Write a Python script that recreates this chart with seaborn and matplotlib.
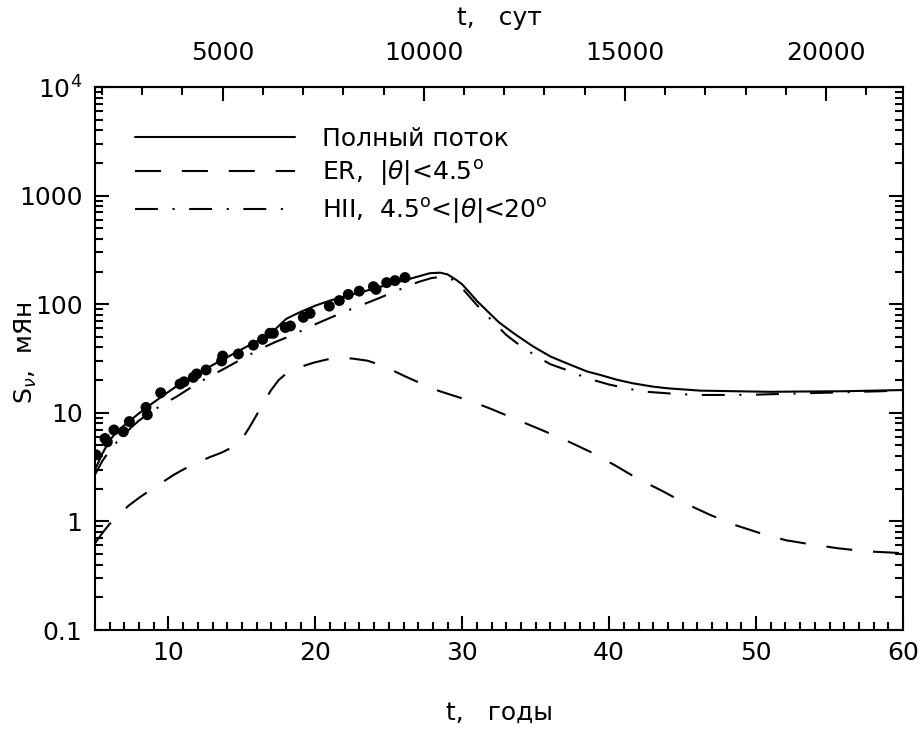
import numpy as np
import pandas as pd
import matplotlib
matplotlib.use("Agg")
import matplotlib.pyplot as plt
import seaborn as sns
from matplotlib.ticker import MultipleLocator, FixedLocator, FixedFormatter, LogLocator, NullFormatter

# ---- data ----
t_total = [5.0, 5.5, 6.0, 6.5, 7.0, 8.0, 9.0, 10.0, 11.0, 12.0, 13.0, 14.0, 15.0, 16.0, 17.0,
           17.5, 18.0, 18.5, 19.0, 20.0, 21.0, 22.0, 23.0, 24.0, 25.0, 26.0, 27.0, 27.8, 28.5,
           29.0, 29.6, 30.0, 30.5, 31.0, 31.5, 32.0, 32.5, 33.5, 34.8, 36.0, 37.1, 38.5, 39.4,
           40.5, 41.6, 43.0, 44.0, 46.2, 48.5, 51.0, 53.0, 56.0, 58.0, 60.0]
s_total = [3.0, 4.2, 5.6, 6.7, 7.7, 9.9, 12.5, 15.6, 19.3, 23.0, 27.5, 32.5, 38.5, 45.5, 54.0,
           63.0, 73.0, 79.0, 85.0, 97.0, 108.0, 118.0, 128.0, 139.0, 152.0, 165.0, 180.0, 193.0, 195.0,
           188.0, 167.0, 152.0, 128.0, 107.0, 92.0, 79.0, 68.0, 54.0, 41.0, 33.0, 28.6, 24.0, 22.3,
           20.2, 18.7, 17.4, 16.8, 16.0, 15.8, 15.6, 15.7, 15.8, 16.0, 16.2]

t_er = [5.0, 5.5, 6.0, 6.5, 7.27, 8.0, 8.86, 9.5, 10.33, 11.0, 11.92, 12.8, 13.62, 14.19, 14.87,
        15.1, 15.5, 16.05, 16.5, 16.96, 17.5, 18.16, 19.0, 19.91, 20.8, 21.68, 22.5, 23.54, 24.3,
        25.2, 26.0, 26.9, 27.7, 28.53, 29.4, 30.35, 31.2, 32.0, 33.75, 35.4, 37.1, 38.7, 40.35,
        41.9, 43.57, 45.16, 46.86, 48.52, 50.27, 52.04, 53.9, 55.6, 57.5, 60.0]
s_er = [0.63, 0.78, 0.95, 1.1, 1.39, 1.65, 1.98, 2.25, 2.67, 3.0, 3.47, 3.9, 4.3, 4.7, 5.5,
        6.0, 7.3, 9.8, 12.5, 16.0, 20.0, 23.9, 26.5, 29.0, 31.0, 31.8, 31.6, 30.2, 28.0,
        24.8, 22.0, 19.4, 17.2, 15.7, 14.4, 13.1, 11.9, 10.8, 8.6, 6.95, 5.54, 4.38, 3.31,
        2.49, 1.92, 1.47, 1.15, 0.93, 0.78, 0.67, 0.61, 0.565, 0.53, 0.51]

t_hii = [5.0, 5.5, 6.0, 6.5, 7.0, 7.4, 8.0, 9.0, 10.0, 10.56, 11.5, 12.5, 13.85, 15.2, 16.3,
         17.3, 18.3, 18.7, 19.5, 20.77, 22.24, 23.3, 24.28, 25.76, 27.0, 27.9, 28.5, 29.0, 29.4,
         30.0, 30.5, 31.0, 32.0, 33.0, 33.7, 35.06, 36.0, 37.1, 38.5, 40.0, 41.2, 42.3, 44.6,
         46.1, 48.4, 50.0, 52.3, 56.2, 60.0]
s_hii = [2.7, 3.6, 4.5, 5.4, 6.3, 7.2, 8.5, 10.6, 12.8, 14.1, 17.0, 20.5, 25.7, 32.4, 39.0,
         45.0, 51.0, 54.0, 61.0, 72.6, 88.0, 100.0, 113.0, 137.0, 160.0, 174.0, 178.0, 176.0, 167.0,
         140.0, 117.0, 98.0, 71.0, 52.0, 44.0, 33.0, 28.0, 24.8, 20.8, 18.2, 16.8, 15.7, 14.9,
         14.6, 14.6, 14.7, 15.0, 15.5, 16.0]

t_obs = [5.07, 5.68, 5.84, 6.29, 6.93, 7.34, 8.47, 8.56, 9.47, 10.79, 11.06, 11.69, 11.92, 12.56,
         13.62, 13.69, 14.76, 15.78, 16.41, 16.91, 17.14, 17.95, 18.3, 19.18, 19.64, 20.95, 21.63,
         22.24, 22.99, 23.95, 24.13, 24.85, 25.42, 26.1]
s_obs = [4.1, 5.8, 5.4, 6.95, 6.7, 8.3, 11.2, 9.6, 15.3, 18.4, 19.3, 21.2, 22.8, 24.8,
         30.0, 33.3, 34.8, 42.0, 47.5, 54.0, 54.0, 61.0, 63.0, 75.7, 82.4, 96.0, 108.0,
         123.0, 132.0, 145.0, 137.0, 158.0, 165.0, 176.0]

ytick_vals = [0.1, 1, 10, 100, 1000, 1e4]
ytick_labels = ["0.1", "1", "10", "100", "1000", "10$^4$"]
xtick_years = [10, 20, 30, 40, 50, 60]
xtick_days = [5000, 10000, 15000, 20000]

label_total = "Полный поток"
label_er = r"ER,  |$\theta$|<4.5$^{\rm o}$"
label_hii = r"HII,  4.5$^{\rm o}$<|$\theta$|<20$^{\rm o}$"

DAYS_PER_YEAR = 365.25

# ---- style ----
sns.set_theme(style="ticks")
plt.rcParams["font.family"] = ["DejaVu Sans"]
plt.rcParams["mathtext.fontset"] = "dejavusans"
plt.rcParams["axes.linewidth"] = 1.5

fig = plt.figure(figsize=(9.22, 7.31), dpi=100)
ax = fig.add_axes([95/922, 1 - 630/731, 808/922, 543/731])

lw = 1.5
sns.lineplot(x=t_total, y=s_total, ax=ax, color="black", lw=lw, sort=False,
             estimator=None, label=label_total, linestyle="-")
sns.lineplot(x=t_er, y=s_er, ax=ax, color="black", lw=lw, sort=False,
             estimator=None, label=label_er, linestyle=(0, (12.5, 10)))
sns.lineplot(x=t_hii, y=s_hii, ax=ax, color="black", lw=lw, sort=False,
             estimator=None, label=label_hii, linestyle=(0, (11, 7, 1, 7)))
sns.scatterplot(x=t_obs, y=s_obs, ax=ax, color="black", s=62, edgecolor="none",
                legend=False, zorder=5)

ax.set_yscale("log")
ax.set_xlim(5, 60)
ax.set_ylim(0.1, 1e4)

ax.yaxis.set_major_locator(FixedLocator(ytick_vals))
ax.yaxis.set_major_formatter(FixedFormatter(ytick_labels))
ax.yaxis.set_minor_locator(LogLocator(base=10, subs=np.arange(2, 10)))
ax.yaxis.set_minor_formatter(NullFormatter())
ax.xaxis.set_major_locator(FixedLocator(xtick_years))
ax.xaxis.set_minor_locator(MultipleLocator(1))

ax.tick_params(axis="both", which="both", direction="in", top=False, right=True,
               colors="black", labelsize=18)
ax.tick_params(axis="both", which="major", length=10, width=1.5)
ax.tick_params(axis="both", which="minor", length=6, width=1.5)
ax.tick_params(axis="y", which="major", pad=9)
ax.tick_params(axis="x", which="major", pad=8)
for sp in ax.spines.values():
    sp.set_visible(True)
    sp.set_color("black")
    sp.set_linewidth(1.5)

secax = ax.secondary_xaxis("top", functions=(lambda t: t * DAYS_PER_YEAR,
                                              lambda d: d / DAYS_PER_YEAR))
secax.xaxis.set_major_locator(FixedLocator(xtick_days))
secax.xaxis.set_minor_locator(MultipleLocator(1000))
secax.tick_params(axis="x", which="both", direction="in", labelsize=18, colors="black")
secax.tick_params(axis="x", which="major", length=10, width=1.5, pad=16)
secax.tick_params(axis="x", which="minor", length=6, width=1.5)
secax.spines["top"].set_linewidth(1.5)
secax.set_xlabel("t,   сут", fontsize=18, color="black", labelpad=11)

ax.set_xlabel("t,   годы", fontsize=18, color="black")
ax.xaxis.set_label_coords(0.501, -0.152)
ax.xaxis.label.set_verticalalignment("center")
ax.set_ylabel(r"S$_\nu$,  мЯн", fontsize=18, color="black")
ax.yaxis.set_label_coords(-0.086, 0.51)
ax.yaxis.label.set_verticalalignment("center")

leg = ax.legend(loc="upper left", bbox_to_anchor=(0.0495, 0.927), frameon=False,
                fontsize=18, handlelength=6.4, handletextpad=1.1, labelspacing=0.3,
                borderaxespad=0, borderpad=0)
for txt in leg.get_texts():
    txt.set_color("black")

fig.savefig("out.png", dpi=100, facecolor="white")
